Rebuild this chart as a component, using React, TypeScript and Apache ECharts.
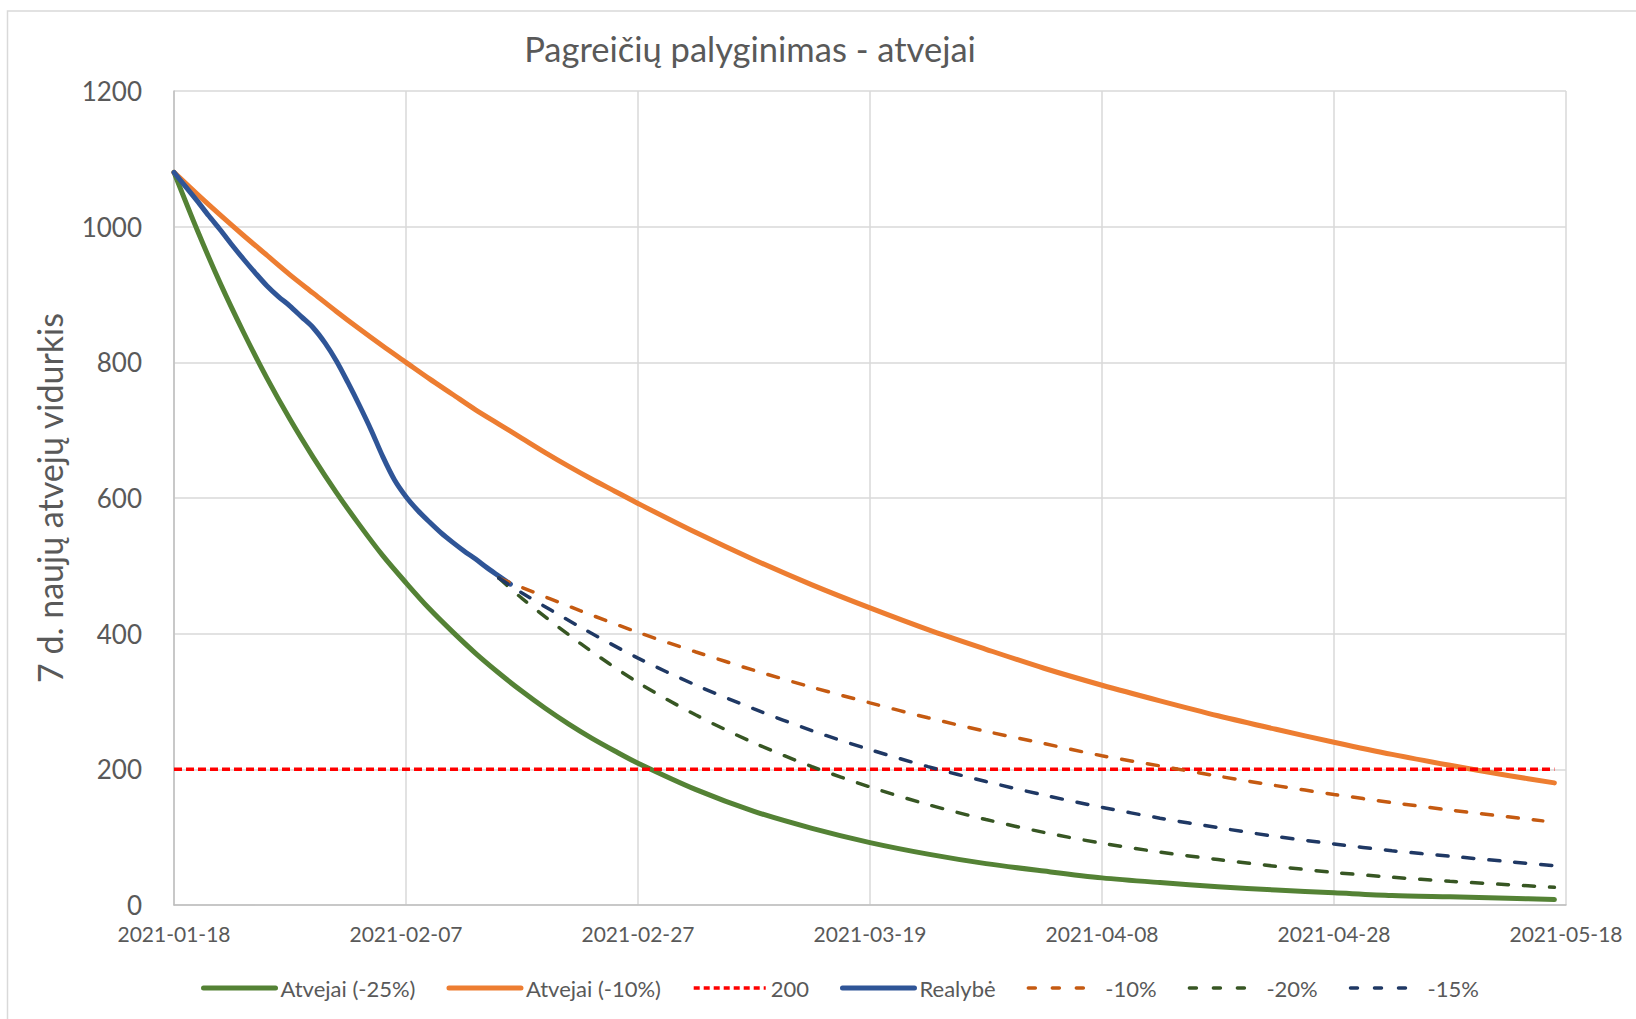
import React, { useEffect, useRef } from "react";
import * as echarts from "echarts";

const X_TICK_DAYS = [0, 20, 40, 60, 80, 100, 120];

const MODEL_DAYS = [0, 2, 4, 6, 8, 10, 12, 14, 16, 18, 20, 22, 24, 26, 28, 30, 32, 34, 36, 38, 40, 45, 50, 55, 60, 65, 70, 75, 80, 85, 90, 95, 100, 105, 110, 115, 119];
const CASES_25 = [1080, 995, 916, 844, 777, 716, 660, 608, 560, 515, 475, 437, 403, 371, 342, 315, 290, 267, 246, 227, 209, 170, 138, 113, 92, 75, 61, 50, 40, 33, 27, 22, 18, 14, 12, 10, 8];
const CASES_10 = [1080, 1048, 1017, 987, 958, 929, 902, 875, 849, 824, 800, 776, 753, 730, 709, 688, 667, 647, 628, 610, 592, 549, 509, 472, 438, 406, 377, 349, 324, 301, 279, 259, 240, 222, 206, 191, 180];

const LIMIT_DAYS = [0, 119];
const LIMIT_VALUES = [200, 200];

const REAL_DAYS = [0, 1, 2, 3, 4, 5, 6, 7, 8, 9, 10, 11, 12, 13, 14, 15, 16, 17, 18, 19, 20, 21, 22, 23, 24, 25, 26, 27, 28, 29];
const REAL_VALUES = [1080, 1059, 1038, 1016, 995, 973, 952, 932, 913, 897, 883, 867, 851, 829, 802, 770, 736, 700, 661, 627, 602, 582, 565, 549, 535, 522, 510, 497, 485, 473];

const PROJ_DAYS_10 = [28, 30, 35, 40, 45, 50, 55, 60, 65, 70, 75, 80, 85, 90, 95, 100, 105, 110, 115, 118];
const PROJ_DAYS = [28, 30, 35, 40, 45, 50, 55, 60, 65, 70, 75, 80, 85, 90, 95, 100, 105, 110, 115, 119];
const PROJ_10 = [482, 468, 434, 402, 373, 346, 321, 298, 276, 256, 238, 220, 205, 190, 176, 163, 151, 140, 130, 124];
const PROJ_20 = [482, 452, 386, 328, 280, 239, 204, 174, 148, 126, 107, 91, 78, 67, 57, 48, 41, 35, 30, 26];
const PROJ_15 = [482, 460, 410, 364, 324, 289, 257, 229, 204, 182, 162, 144, 128, 114, 101, 90, 80, 72, 64, 58];

const zip = (xs: number[], ys: number[]) => xs.map((x, i) => [x, ys[i]]);

const dayLabel = (d: number) => {
  const base = Date.UTC(2021, 0, 18);
  const dt = new Date(base + d * 86400000);
  const mm = String(dt.getUTCMonth() + 1).padStart(2, "0");
  const dd = String(dt.getUTCDate()).padStart(2, "0");
  return `${dt.getUTCFullYear()}-${mm}-${dd}`;
};

const FONT = "Lato";
const GRAY = "#595959";
const SOLID_W = 5;
const DASH_W = 3.5;
const DASH: number[] = [11, 15];

export default function App() {
  const ref = useRef<HTMLDivElement>(null);
  useEffect(() => {
    if (!ref.current) return;
    const chart = echarts.init(ref.current, null, { renderer: "svg" });
    const solid = (name: string, color: string, data: number[][], smooth: number | boolean) => ({
      name,
      type: "line",
      data,
      smooth,
      symbol: "none",
      showSymbol: false,
      lineStyle: { color, width: SOLID_W, cap: "round", join: "round" },
      itemStyle: { color },
    });
    const dashed = (name: string, color: string, data: number[][]) => ({
      name,
      type: "line",
      data,
      smooth: 0.3,
      symbol: "none",
      showSymbol: false,
      lineStyle: { color, width: DASH_W, type: DASH, cap: "round" },
      itemStyle: { color },
    });
    const legendItem = (name: string, color: string, width: number, type: any, cap: string) => ({
      name,
      itemStyle: { opacity: 0 },
      lineStyle: { color, width, type, cap },
    });
    chart.setOption({
      animation: false,
      backgroundColor: "#ffffff",
      textStyle: { fontFamily: FONT },
      grid: { left: 174, right: 70, top: 91, bottom: 114, containLabel: false },
      legend: {
        left: 196,
        top: 972,
        itemWidth: 72,
        itemHeight: 14,
        itemGap: 31,
        itemStyle: { opacity: 0 },
        textStyle: { fontFamily: FONT, fontSize: 22, color: GRAY },
        data: [
          legendItem("Atvejai (-25%)", "#548235", SOLID_W, "solid", "round"),
          legendItem("Atvejai (-10%)", "#ED7D31", SOLID_W, "solid", "round"),
          legendItem("200", "#FF0000", 3.5, [6, 4], "butt"),
          legendItem("Realybė", "#2F5597", SOLID_W, "solid", "round"),
          legendItem("-10%", "#C55A11", DASH_W, [7, 17], "round"),
          legendItem("-20%", "#375623", DASH_W, [7, 17], "round"),
          legendItem("-15%", "#1F3864", DASH_W, [7, 17], "round"),
        ],
      },
      xAxis: {
        type: "value",
        min: 0,
        max: 120,
        interval: 20,
        axisLine: { show: true, lineStyle: { color: "#BFBFBF", width: 1.5 } },
        axisTick: { show: false },
        splitLine: { show: true, lineStyle: { color: "#D9D9D9", width: 1.5 } },
        axisLabel: {
          margin: 18,
          fontFamily: FONT,
          fontSize: 21,
          color: GRAY,
          formatter: (v: number) => (X_TICK_DAYS.includes(v) ? dayLabel(v) : ""),
        },
      },
      yAxis: {
        type: "value",
        min: 0,
        max: 1200,
        interval: 200,
        axisLine: { show: true, lineStyle: { color: "#BFBFBF", width: 1.5 } },
        axisTick: { show: false },
        splitLine: { show: true, lineStyle: { color: "#D9D9D9", width: 1.5 } },
        axisLabel: {
          margin: 32,
          fontFamily: FONT,
          fontSize: 26,
          color: GRAY,
          formatter: (v: number) => String(v),
        },
      },
      graphic: [
        {
          type: "rect",
          shape: { x: 7.5, y: 11, width: 1700, height: 1100 },
          style: { fill: "none", stroke: "#D9D9D9", lineWidth: 1.5 },
          silent: true,
        },
        {
          type: "text",
          x: 750,
          y: 48,
          style: {
            text: "Pagreičių palyginimas - atvejai",
            fontFamily: FONT,
            fontSize: 34.5,
            fill: GRAY,
            textAlign: "center",
            textVerticalAlign: "middle",
          },
        },
        {
          type: "text",
          x: 49,
          y: 498,
          rotation: Math.PI / 2,
          style: {
            text: "7 d. naujų atvejų vidurkis",
            fontFamily: FONT,
            fontSize: 34,
            fill: GRAY,
            textAlign: "center",
            textVerticalAlign: "middle",
          },
        },
      ],
      series: [
        solid("Atvejai (-25%)", "#548235", zip(MODEL_DAYS, CASES_25), 0.3),
        solid("Atvejai (-10%)", "#ED7D31", zip(MODEL_DAYS, CASES_10), 0.3),
        {
          name: "200",
          type: "line",
          data: zip(LIMIT_DAYS, LIMIT_VALUES),
          symbol: "none",
          showSymbol: false,
          lineStyle: { color: "#FF0000", width: 3.5, type: [8, 4] },
          itemStyle: { color: "#FF0000" },
        },
        solid("Realybė", "#2F5597", zip(REAL_DAYS, REAL_VALUES), 0.3),
        dashed("-10%", "#C55A11", zip(PROJ_DAYS_10, PROJ_10)),
        dashed("-20%", "#375623", zip(PROJ_DAYS, PROJ_20)),
        dashed("-15%", "#1F3864", zip(PROJ_DAYS, PROJ_15)),
      ],
    });
    return () => chart.dispose();
  }, []);
  return (
    <div
      ref={ref}
      style={{ position: "absolute", left: 0, top: 0, width: 1636, height: 1019 }}
    />
  );
}
